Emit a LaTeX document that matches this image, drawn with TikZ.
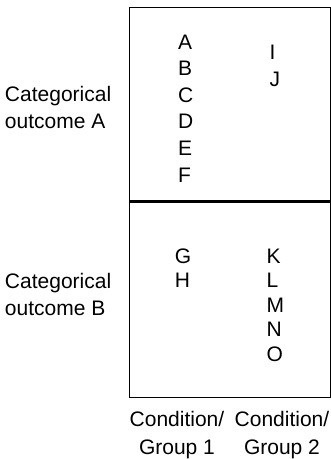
\documentclass[tikz,border=0pt]{standalone}
\usepackage{fontspec}
\setmainfont{Liberation Sans}
\begin{document}
\begin{tikzpicture}[x=1pt,y=-1pt,
  lab/.style={inner sep=0pt, outer sep=0pt, font=\fontsize{21}{27}\selectfont},
  side/.style={lab, align=left, anchor=base west},
  bottom/.style={lab, align=center, anchor=base, font=\fontsize{21}{28}\selectfont},
  letter/.style={lab, anchor=base west},
  frame/.style={draw=black, line width=1pt},
  divider/.style={draw=black, line width=2.4pt}]
\useasboundingbox (0,0) rectangle (331,459);
% box
\coordinate (tl) at (129.5,7.5);
\coordinate (br) at (330,397);
\coordinate (ml) at (129.5,201.5);
\coordinate (mr) at (330,201.5);
\draw[frame] (tl) rectangle (br);
\draw[divider] (ml) -- (mr);
% upper letters
\foreach \t [count=\i] in {A,B,C,D,E,F}
  \node[letter] (\t) at (178,{49+(\i-1)*26.6}) {\t};
\foreach \t [count=\i] in {I,J}
  \node[letter] (\t) at (269.5,{59.5+(\i-1)*26.6}) {\t};
% lower letters
\foreach \t [count=\i] in {G,H}
  \node[letter] (\t) at (175,{263+(\i-1)*24.6}) {\t};
\foreach \t [count=\i] in {K,L,M,N,O}
  \node[letter] (\t) at (266.5,{263+(\i-1)*24.6}) {\t};
% side labels (anchor = baseline of last line)
\node[side] (outA) at (5,128.5) {Categorical\\outcome A};
\node[side] (outB) at (5,315) {Categorical\\outcome B};
% bottom labels
\node[bottom] (g1) at (177,454) {Condition/\\Group 1};
\node[bottom] (g2) at (282,454) {Condition/\\Group 2};
\end{tikzpicture}
\end{document}
